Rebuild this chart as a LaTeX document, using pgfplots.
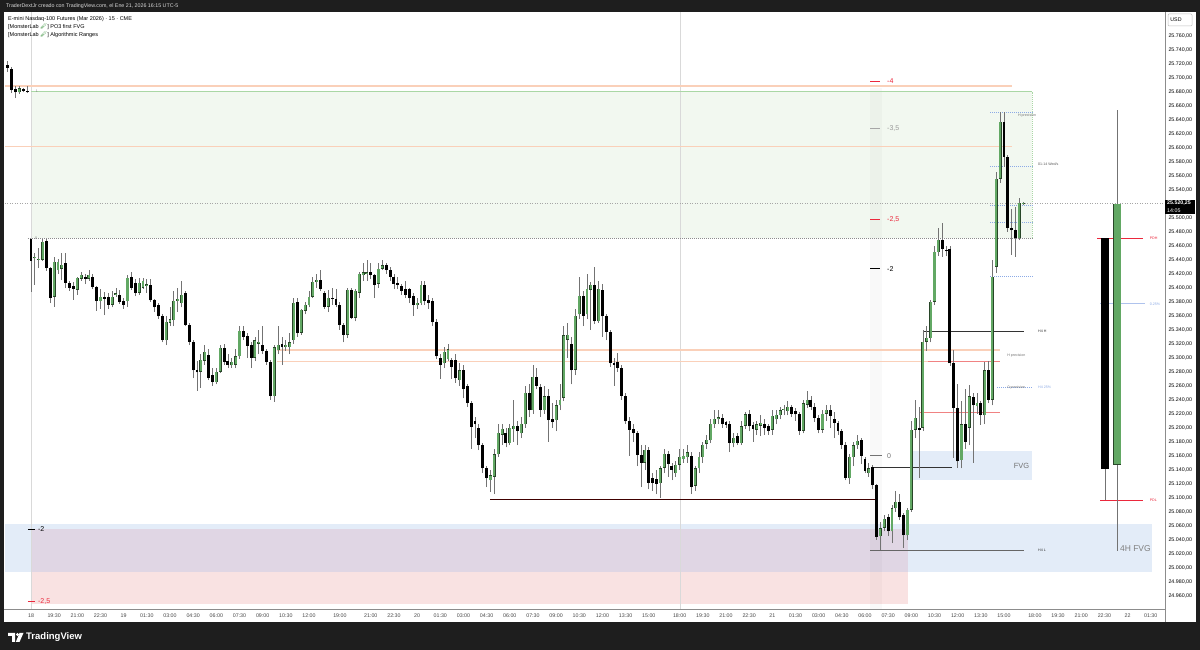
\documentclass[border=0pt]{standalone}
\usepackage{pgfplots}
\pgfplotsset{compat=1.18}
\usepackage{pgfplotstable}
\usepackage{fontspec}
\setmainfont{Liberation Sans}
\newfontfamily\emo{Noto Emoji}
\definecolor{tvbg}{RGB}{30,30,30}
\definecolor{cgreen}{RGB}{98,168,100}
\definecolor{cgreenedge}{RGB}{40,70,40}
\definecolor{wick}{RGB}{115,115,115}
\definecolor{zgreen}{RGB}{242,248,240}
\definecolor{zgreenline}{RGB}{170,215,165}
\definecolor{orng}{RGB}{250,208,185}
\definecolor{zblue}{RGB}{227,236,248}
\definecolor{zpink}{RGB}{249,226,226}
\definecolor{zpurple}{RGB}{224,214,228}
\definecolor{rred}{RGB}{235,40,60}
\definecolor{lred}{RGB}{240,130,130}
\definecolor{lblue}{RGB}{140,170,230}
\definecolor{axgray}{RGB}{70,70,70}

\pgfplotstableread{
i o h l c t
-6 25718 25724 25708 25714 0
-5 25713 25716 25678 25683 0
-4 25684 25688 25671 25679 0
-3 25679 25688 25677 25685 1
-2 25684 25686 25679 25681 0
-1 25681 25688 25678 25679 0
0 25469 25470 25394 25438 0
1 25442 25450 25404 25444 1
2 25440 25457 25428 25441 1
3 25440 25470 25438 25466 1
4 25467 25470 25424 25428 0
5 25428 25430 25378 25385 0
6 25387 25444 25373 25437 1
7 25425 25441 25420 25437 1
8 25427 25450 25411 25433 1
9 25435 25450 25400 25407 0
10 25407 25410 25396 25400 0
11 25402 25408 25383 25398 0
12 25397 25416 25390 25414 1
13 25413 25422 25410 25418 1
14 25415 25420 25405 25413 0
15 25413 25425 25410 25418 1
16 25416 25420 25398 25401 0
17 25401 25403 25367 25381 0
18 25381 25398 25370 25387 1
19 25387 25394 25361 25384 0
20 25387 25392 25370 25376 0
21 25376 25395 25372 25387 1
22 25390 25400 25387 25392 1
23 25390 25397 25377 25380 0
24 25381 25385 25370 25376 0
25 25381 25418 25373 25414 1
26 25416 25422 25397 25400 0
27 25407 25412 25388 25393 0
28 25393 25414 25390 25407 1
29 25400 25414 25398 25410 1
30 25403 25413 25393 25405 1
31 25404 25413 25380 25382 0
32 25382 25384 25365 25372 0
33 25375 25378 25356 25359 0
34 25359 25362 25322 25325 0
35 25325 25360 25318 25351 1
36 25350 25372 25345 25355 1
37 25354 25395 25345 25381 1
38 25381 25400 25365 25384 1
39 25378 25410 25372 25390 1
40 25392 25395 25345 25347 0
41 25347 25350 25318 25323 0
42 25323 25326 25271 25282 0
43 25283 25295 25253 25279 0
44 25280 25305 25257 25297 1
45 25296 25318 25290 25308 1
46 25304 25313 25268 25271 0
47 25275 25285 25260 25265 0
48 25265 25285 25262 25280 1
49 25280 25318 25278 25314 1
50 25314 25320 25290 25294 0
51 25295 25305 25285 25290 0
52 25289 25300 25285 25294 1
53 25290 25312 25285 25302 1
54 25302 25345 25298 25338 1
55 25338 25345 25325 25330 0
56 25331 25335 25300 25317 0
57 25318 25322 25285 25300 0
58 25300 25330 25295 25325 1
59 25320 25340 25305 25323 1
60 25318 25345 25305 25310 0
61 25310 25312 25290 25294 0
62 25294 25297 25240 25245 0
63 25245 25318 25237 25315 1
64 25311 25345 25305 25318 1
65 25320 25330 25290 25315 0
66 25315 25325 25310 25318 1
67 25315 25335 25305 25322 1
68 25325 25385 25320 25378 1
69 25380 25385 25330 25335 0
70 25336 25370 25333 25368 1
71 25367 25380 25362 25376 1
72 25375 25395 25372 25387 1
73 25387 25415 25385 25408 1
74 25408 25420 25400 25411 1
75 25411 25425 25395 25398 0
76 25392 25395 25370 25373 0
77 25373 25397 25365 25386 1
78 25386 25400 25376 25384 0
79 25384 25398 25372 25376 0
80 25376 25380 25340 25347 0
81 25347 25350 25322 25333 0
82 25333 25400 25328 25397 1
83 25397 25400 25355 25357 0
84 25357 25398 25352 25396 1
85 25393 25423 25385 25420 1
86 25418 25435 25410 25422 1
87 25420 25440 25410 25422 1
88 25422 25435 25412 25418 0
89 25418 25420 25385 25404 0
90 25406 25435 25400 25427 1
91 25427 25440 25425 25432 1
92 25432 25435 25420 25425 0
93 25426 25430 25410 25416 0
94 25415 25420 25398 25406 0
95 25407 25415 25398 25404 0
96 25403 25405 25390 25395 0
97 25398 25410 25385 25390 0
98 25398 25400 25378 25385 0
99 25388 25392 25360 25375 0
100 25375 25385 25370 25378 1
101 25378 25410 25375 25404 1
102 25404 25410 25375 25381 0
103 25383 25390 25370 25378 0
104 25381 25385 25345 25351 0
105 25351 25355 25298 25302 0
106 25300 25305 25270 25290 0
107 25292 25315 25285 25308 1
108 25298 25320 25295 25312 1
109 25297 25300 25270 25287 0
110 25297 25305 25264 25271 0
111 25268 25292 25260 25282 1
112 25282 25290 25242 25255 0
113 25260 25262 25230 25235 0
114 25235 25238 25170 25201 0
115 25210 25215 25185 25205 0
116 25200 25205 25168 25175 0
117 25175 25178 25135 25142 0
118 25142 25145 25115 25128 0
119 25125 25140 25108 25132 1
120 25130 25170 25105 25162 1
121 25162 25205 25158 25193 1
122 25190 25205 25175 25198 1
123 25193 25200 25172 25178 0
124 25178 25205 25175 25200 1
125 25198 25240 25180 25203 1
126 25203 25210 25175 25195 0
127 25192 25215 25185 25206 1
128 25205 25260 25200 25250 1
129 25250 25262 25215 25225 0
130 25225 25290 25220 25273 1
131 25272 25285 25255 25260 0
132 25258 25262 25215 25226 0
133 25225 25260 25220 25245 1
134 25246 25255 25180 25211 0
135 25212 25235 25200 25208 0
136 25211 25240 25195 25232 1
137 25232 25262 25225 25240 1
138 25243 25345 25238 25332 1
139 25326 25350 25300 25333 1
140 25320 25330 25262 25282 0
141 25283 25370 25275 25360 1
142 25362 25415 25355 25388 1
143 25388 25395 25345 25360 0
144 25362 25420 25355 25398 1
145 25397 25408 25340 25404 1
146 25404 25430 25348 25352 0
147 25352 25410 25350 25398 1
148 25397 25405 25330 25359 0
149 25359 25362 25325 25337 0
150 25337 25340 25287 25292 0
151 25292 25300 25260 25290 0
152 25294 25307 25280 25285 0
153 25286 25290 25240 25246 0
154 25246 25250 25205 25209 0
155 25209 25215 25160 25197 0
156 25198 25205 25180 25193 0
157 25193 25195 25145 25161 0
158 25161 25175 25115 25150 0
159 25150 25175 25140 25168 1
160 25168 25172 25112 25121 0
161 25128 25135 25110 25121 0
162 25127 25140 25105 25120 0
163 25121 25145 25100 25142 1
164 25143 25170 25135 25163 1
165 25163 25167 25130 25148 0
166 25145 25150 25125 25140 0
167 25135 25152 25130 25147 1
168 25147 25170 25140 25158 1
169 25155 25170 25150 25160 1
170 25158 25175 25150 25165 1
171 25160 25165 25105 25115 0
172 25117 25145 25110 25142 1
173 25142 25165 25135 25158 1
174 25158 25180 25150 25176 1
175 25177 25190 25170 25183 1
176 25182 25212 25178 25206 1
177 25205 25225 25200 25213 1
178 25212 25225 25205 25215 1
179 25214 25220 25200 25205 0
180 25208 25210 25200 25204 0
181 25205 25210 25165 25178 0
182 25178 25192 25172 25186 1
183 25188 25192 25175 25178 0
184 25178 25210 25175 25202 1
185 25203 25222 25198 25219 1
186 25220 25225 25195 25202 0
187 25204 25208 25180 25198 0
188 25197 25210 25190 25205 1
189 25203 25218 25188 25207 1
190 25206 25213 25190 25200 0
191 25202 25206 25190 25196 0
192 25197 25225 25190 25217 1
193 25212 25225 25205 25218 1
194 25218 25230 25212 25225 1
195 25225 25233 25218 25227 1
196 25224 25238 25218 25230 1
197 25230 25233 25215 25220 0
198 25224 25228 25210 25219 0
199 25219 25222 25190 25196 0
200 25196 25240 25192 25235 1
201 25233 25252 25228 25240 1
202 25240 25245 25225 25230 0
203 25230 25235 25208 25214 0
204 25214 25218 25192 25197 0
205 25197 25225 25193 25220 1
206 25220 25232 25210 25226 1
207 25226 25232 25200 25217 0
208 25212 25222 25185 25207 0
209 25207 25210 25190 25195 0
210 25195 25198 25170 25176 0
211 25176 25180 25125 25128 0
212 25128 25162 25120 25158 1
213 25158 25180 25145 25175 1
214 25175 25190 25170 25181 1
215 25182 25186 25148 25160 0
216 25155 25158 25135 25138 0
217 25135 25150 25130 25142 1
218 25144 25147 25112 25118 0
219 25118 25120 25040 25044 0
220 25045 25065 25025 25056 1
221 25057 25075 25052 25070 1
222 25073 25076 25045 25052 0
223 25052 25090 25035 25085 1
224 25085 25110 25080 25094 1
225 25094 25105 25068 25072 0
226 25075 25078 25028 25046 0
227 25046 25085 25040 25083 1
228 25083 25210 25080 25197 1
229 25197 25240 25185 25214 1
230 25200 25230 25128 25197 0
231 25200 25340 25195 25323 1
232 25323 25345 25310 25328 1
233 25328 25383 25322 25380 1
234 25380 25459 25375 25451 1
235 25451 25485 25445 25468 1
236 25468 25493 25444 25456 0
237 25453 25460 25445 25452 0
238 25456 25460 25288 25292 0
239 25292 25311 25157 25228 0
240 25228 25262 25143 25152 0
241 25154 25238 25142 25205 1
242 25205 25255 25170 25180 0
243 25200 25261 25175 25245 1
244 25244 25250 25150 25232 0
245 25231 25250 25220 25236 1
246 25235 25238 25204 25218 0
247 25218 25294 25205 25282 1
248 25282 25296 25235 25240 0
249 25240 25440 25232 25416 1
250 25430 25565 25421 25556 1
251 25556 25651 25550 25637 1
252 25637 25651 25573 25587 0
253 25587 25590 25480 25485 0
254 25486 25513 25447 25482 0
255 25482 25516 25444 25471 0
256 25471 25528 25468 25521 1
257 25520 25522 25518 25520.25 1
}\candles

\pgfplotstableread{
i o h l c t
278.2 25471 25471 25096 25141 0
281.3 25147 25654 25024 25520 1
}\htf

\pgfplotsset{
  ebar/.style 2 args={draw=none, mark=none,
    error bars/.cd, y dir=plus, y explicit, error mark=none,
    error bar style={line width=#1, draw=#2, solid}, /pgfplots/.cd},
}

\begin{document}
\begin{tikzpicture}[x=1pt,y=1pt]
\fill[tvbg] (0,0) rectangle (1200,650);
\fill[white] (4,28) rectangle (1196,638);
\node[anchor=west,text=white!85!black,font=\fontsize{5.3}{6}\selectfont,inner sep=0] at (6,644) {TraderDextJr creado con TradingView.com, el Ene 21, 2026 16:15 UTC-5};
\begin{axis}[
  at={(5pt,41pt)}, anchor=south west,
  scale only axis, width=1160pt, height=597pt,
  xmin=-6.734, xmax=293.70, ymin=24941.0, ymax=25793.9,
  axis line style={draw=none}, major tick length=0pt,
  scaled y ticks=false,
  xtick={0,6,12,18,24,30,36,42,48,54,60,66,72,80,88,94,100,106,112,118,124,130,136,142,148,154,160,168,174,180,186,192,198,204,210,216,222,228,234,240,246,252,260,266,272,278,284,290},
  xticklabels={18,19:30,21:00,22:30,19,01:30,03:00,04:30,06:00,07:30,09:00,10:30,12:00,19:00,21:00,22:30,20,01:30,03:00,04:30,06:00,07:30,09:00,10:30,12:00,13:30,15:00,18:00,19:30,21:00,22:30,21,01:30,03:00,04:30,06:00,07:30,09:00,10:30,12:00,13:30,15:00,18:00,19:30,21:00,22:30,22,01:30},
  xticklabel style={font=\fontsize{5.3}{6}\selectfont, text=axgray, anchor=center, yshift=-6.5pt},
  ytick={24960,24980,...,25760},
  yticklabel pos=right,
  yticklabel style={font=\fontsize{5.3}{6}\selectfont, text=black, anchor=west, xshift=0pt,
    /pgf/number format/.cd, fixed, fixed zerofill, precision=2, use comma, 1000 sep={.}, assume math mode=true},
  clip=true,
]
% zones
\addplot[draw=none, fill=zblue] coordinates {(-6.74,24994) (290.3,24994) (290.3,25062.5) (-6.74,25062.5)} -- cycle;
\addplot[draw=none, fill=zpink] coordinates {(0,24948) (227.1,24948) (227.1,25055) (0,25055)} -- cycle;
\addplot[draw=none, fill=zpurple] coordinates {(0,24994) (227.1,24994) (227.1,25055) (0,25055)} -- cycle;
\addplot[draw=none, fill=zgreen] coordinates {(0,25471) (259.3,25471) (259.3,25680) (0,25680)} -- cycle;
\addplot[draw=none, fill=zblue] coordinates {(227.7,25125) (259.3,25125) (259.3,25167) (227.7,25167)} -- cycle;
\addplot[draw=none, fill=black, fill opacity=0.022] coordinates {(217.3,24941) (220.4,24941) (220.4,25685) (217.3,25685)} -- cycle;
% vertical separators
\addplot[draw=black!15, line width=0.8pt] coordinates {(0,24941) (0,25793.9)};
\addplot[draw=black!15, line width=0.8pt] coordinates {(168.1,24941) (168.1,25793.9)};
% zone borders
\addplot[draw=zgreenline, line width=0.9pt] coordinates {(0,25680) (259.3,25680)};
\addplot[draw=zgreenline, line width=0.7pt, dash pattern=on 1pt off 1pt] coordinates {(259.3,25471) (259.3,25680)};
\addplot[draw=black!45, line width=0.7pt, dash pattern=on 1pt off 1pt] coordinates {(-0.8,25471) (259.3,25471)};
\addplot[draw=black!35, line width=0.7pt, dash pattern=on 1pt off 1.5pt] coordinates {(-6.74,25520.25) (293.7,25520.25)};
% orange levels
\addplot[draw=orng, line width=1.3pt] coordinates {(-6.74,25688) (254.1,25688)};
\addplot[draw=orng, line width=1.3pt] coordinates {(-6.74,25602) (254.1,25602)};
\addplot[draw=orng, line width=1.2pt] coordinates {(63.7,25311) (251,25311)};
\addplot[draw=orng, line width=1.2pt] coordinates {(63.7,25295) (251,25295)};
\addplot[draw=lred, line width=1pt] coordinates {(232.3,25295) (251,25295)};
\addplot[draw=lred, line width=1pt] coordinates {(230.3,25222) (251,25222)};
% structure lines
\addplot[draw=black!80, line width=0.9pt] coordinates {(231.3,25338) (257.2,25338)};
\addplot[draw=black!80, line width=0.9pt] coordinates {(218.1,25143) (238.5,25143)};
\addplot[draw=black!55, line width=0.9pt] coordinates {(217.3,25160) (220.4,25160)};
\addplot[draw=black!60, line width=1pt] coordinates {(217.3,25025) (257.2,25025)};
\addplot[draw=black!75!red, line width=0.9pt] coordinates {(118.9,25097) (218.6,25097)};
% precision lines
\addplot[draw=lblue, line width=0.6pt, dash pattern=on 1pt off 1pt] coordinates {(248.4,25651) (259.3,25651)};
\addplot[draw=lblue, line width=0.6pt, dash pattern=on 1pt off 1pt] coordinates {(248.4,25573) (259.3,25573)};
\addplot[draw=lblue, line width=0.6pt, dash pattern=on 1pt off 1pt] coordinates {(248.4,25518) (259.3,25518)};
\addplot[draw=lblue, line width=0.6pt, dash pattern=on 1pt off 1pt] coordinates {(248.4,25494) (259.3,25494)};
\addplot[draw=lblue, line width=0.6pt, dash pattern=on 1pt off 1pt] coordinates {(248.4,25417) (259.3,25417)};
\addplot[draw=lblue, line width=0.6pt, dash pattern=on 1pt off 1pt] coordinates {(250.2,25258) (259.5,25258)};
% HTF levels
\addplot[draw=rred, line width=1pt] coordinates {(276.1,25471) (288.0,25471)};
\addplot[draw=rred, line width=1pt] coordinates {(276.9,25096) (288.0,25096)};
\addplot[draw=lblue!70, line width=0.8pt] coordinates {(276.9,25377) (288.5,25377)};
% range ticks
\addplot[draw=rred, line width=1.2pt] coordinates {(217.3,25695) (219.9,25695)};
\addplot[draw=black!35, line width=1.2pt] coordinates {(217.3,25628) (219.9,25628)};
\addplot[draw=rred, line width=1.2pt] coordinates {(217.3,25497) (219.9,25497)};
\addplot[draw=black, line width=1.2pt] coordinates {(217.3,25427) (219.9,25427)};
\addplot[draw=black, line width=1.2pt] coordinates {(-0.78,25055) (1.04,25055)};
\addplot[draw=rred, line width=1.2pt] coordinates {(-0.78,24952) (1.04,24952)};
% candles: wicks
\addplot[ebar={0.8pt}{wick}]
  table[x=i, y=l, y error plus expr={\thisrow{h}-\thisrow{l}}] {\candles};
% bearish bodies
\addplot[restrict expr to domain={\thisrow{t}}{-0.5:0.5}, ebar={2.9pt}{black}]
  table[x=i, y expr={min(\thisrow{o},\thisrow{c})}, y error plus expr={max(abs(\thisrow{c}-\thisrow{o}),1.6)}] {\candles};
% bullish bodies
\addplot[restrict expr to domain={\thisrow{t}}{0.5:1.5}, ebar={2.9pt}{cgreenedge}]
  table[x=i, y expr={min(\thisrow{o},\thisrow{c})}, y error plus expr={max(abs(\thisrow{c}-\thisrow{o}),1.6)}] {\candles};
\addplot[restrict expr to domain={\thisrow{t}}{0.5:1.5}, ebar={2.1pt}{cgreen}]
  table[x=i, y expr={min(\thisrow{o},\thisrow{c})+0.5}, y error plus expr={max(abs(\thisrow{c}-\thisrow{o})-1,0.6)}] {\candles};
% HTF candles
\addplot[ebar={0.8pt}{wick}]
  table[x=i, y=l, y error plus expr={\thisrow{h}-\thisrow{l}}] {\htf};
\addplot[restrict expr to domain={\thisrow{t}}{-0.5:0.5}, ebar={8pt}{black}]
  table[x=i, y expr={min(\thisrow{o},\thisrow{c})}, y error plus expr={abs(\thisrow{c}-\thisrow{o})}] {\htf};
\addplot[restrict expr to domain={\thisrow{t}}{0.5:1.5}, ebar={8pt}{cgreenedge}]
  table[x=i, y expr={min(\thisrow{o},\thisrow{c})}, y error plus expr={abs(\thisrow{c}-\thisrow{o})}] {\htf};
\addplot[restrict expr to domain={\thisrow{t}}{0.5:1.5}, ebar={7pt}{cgreen}]
  table[x=i, y expr={min(\thisrow{o},\thisrow{c})+0.7}, y error plus expr={abs(\thisrow{c}-\thisrow{o})-1.4}] {\htf};
% labels
\tikzset{lab/.style={anchor=west, inner sep=0, font=\fontsize{7}{8}\selectfont}, tiny/.style={anchor=west, inner sep=0, font=\fontsize{3.6}{4}\selectfont}}
\node[lab, text=rred] at (axis cs:221.7,25695) {-4};
\node[lab, text=black!40] at (axis cs:221.7,25628) {-3,5};
\node[lab, text=rred] at (axis cs:221.7,25497) {-2,5};
\node[lab, text=black] at (axis cs:221.7,25427) {-2};
\node[lab, text=black!55] at (axis cs:221.7,25160) {0};
\node[lab, text=black] at (axis cs:1.8,25055) {-2};
\node[lab, text=rred] at (axis cs:1.8,24952) {-2,5};
\node[tiny, text=black!50] at (axis cs:1.0,25471) {0};
\node[tiny, text=black!50] at (axis cs:1.2,25680) {1};
\node[anchor=east, inner sep=0, font=\fontsize{7.5}{8}\selectfont, text=black!55] at (axis cs:258.6,25146) {FVG};
\node[anchor=west, inner sep=0, font=\fontsize{8.5}{9}\selectfont, text=black!50] at (axis cs:282,25028) {4H FVG};
\node[tiny, text=black!80] at (axis cs:260.8,25338) {H4 H};
\node[tiny, text=black!80] at (axis cs:260.8,25025) {H4 L};
\node[tiny, text=lblue] at (axis cs:260.8,25258) {H4 25\%};
\node[tiny, text=black!55] at (axis cs:252.8,25303) {H precision};
\node[tiny, text=black!55] at (axis cs:252.9,25258) {0 precision};
\node[tiny, text=black!55] at (axis cs:255.6,25646) {H precision};
\node[tiny, text=black!65] at (axis cs:260.8,25576) {01-14 Wed/s};
\node[tiny, text=rred] at (axis cs:289.7,25471) {PDH};
\node[tiny, text=rred] at (axis cs:289.7,25096) {PDL};
\node[tiny, text=lblue] at (axis cs:289.7,25377) {0.25\%};
\end{axis}
% axis frame lines
\draw[black!45, line width=0.8pt] (4,41) -- (1165,41);
\draw[black!45, line width=0.8pt] (1165,28) -- (1165,638);
% legend
\node[anchor=west,inner sep=0,font=\fontsize{5.5}{6}\selectfont] at (8,631) {E-mini Nasdaq-100 Futures (Mar 2026) · 15 · CME};
\node[anchor=west,inner sep=0,font=\fontsize{5.5}{6}\selectfont] at (8,623) {[MonsterLab {\color{cgreen}\emo 🧪}] PO3 first FVG};
\node[anchor=west,inner sep=0,font=\fontsize{5.5}{6}\selectfont] at (8,615) {[MonsterLab {\color{cgreen}\emo 🧪}] Algorithmic Ranges};
% USD box
\draw[black!25, line width=0.5pt, rounded corners=1pt] (1168,624) rectangle (1192,636);
\node[inner sep=0,font=\fontsize{5.3}{6}\selectfont] at (1176,630) {USD};
% price label
\fill[black] (1165,436) rectangle (1195,450);
\node[anchor=west,inner sep=0,text=white,font=\bfseries\fontsize{5.3}{6}\selectfont] at (1167,446.5) {25.520,25};
\node[anchor=west,inner sep=0,text=white,font=\fontsize{5.3}{6}\selectfont] at (1167,439.5) {14:05};
% footer logo
\fill[white] (8,17) -- (15,17) -- (15,8) -- (12,8) -- (12,14) -- (8,14) -- cycle;
\fill[white] (17.5,15.5) circle (1.6);
\fill[white] (19.5,17) -- (23.5,17) -- (19.5,8) -- (15.8,8) -- cycle;
\node[anchor=west,inner sep=0,text=white,font=\bfseries\fontsize{9.5}{10}\selectfont] at (26,13) {TradingView};
\end{tikzpicture}
\end{document}
